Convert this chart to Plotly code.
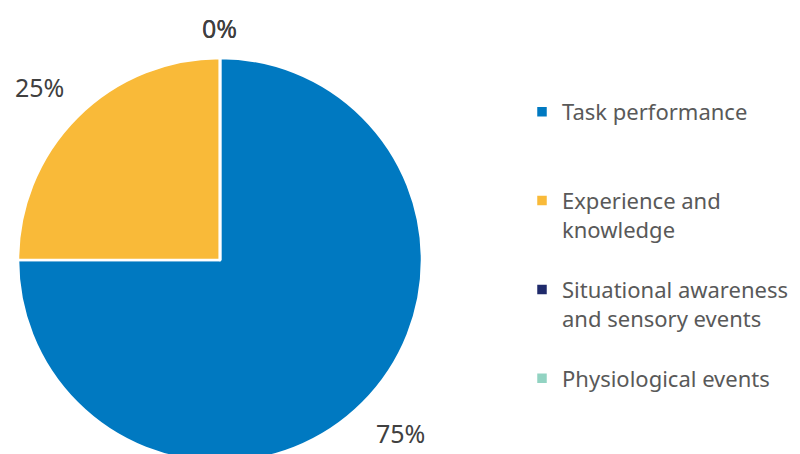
import math
import plotly.graph_objects as go

# --- data ---
categories = [
    "Task performance",
    "Experience and<br>knowledge",
    "Situational awareness<br>and sensory events",
    "Physiological events",
]
values = [75, 25, 0, 0]
colors = ["#0079C1", "#F9BA39", "#1F2A6B", "#92D3C2"]

# pad legend labels so every entry gets the same slot
legend_labels = []
for c in categories:
    n = c.count("<br>") + 1
    legend_labels.append(c + "<br> " * (3 - n))

W, H = 800, 454
# page body adds an 8px margin, so figure coords = screen coords - 8
cx, cy, r = 212, 252, 202

fig = go.Figure()
fig.add_trace(go.Pie(
    labels=legend_labels,
    values=values,
    marker=dict(colors=colors, line=dict(color="white", width=2.5)),
    sort=False,
    direction="clockwise",
    rotation=0,
    textinfo="none",
    hoverinfo="label+percent",
    domain=dict(x=[(cx - r) / W, (cx + r) / W], y=[1 - (cy + r) / H, 1 - (cy - r) / H]),
))

# percentage labels just outside the rim, from cumulative shares
total = sum(values)
cum = 0
for v in values:
    mid = (cum + v / 2) / total * 2 * math.pi
    cum += v
    sx, sy = math.sin(mid), math.cos(mid)
    xa = "center" if abs(sx) < 0.2 else ("left" if sx > 0 else "right")
    ya = "middle" if abs(sy) < 0.2 else ("bottom" if sy > 0 else "top")
    gap = 11 if xa == "center" else 16
    px = cx + (r + gap) * sx
    py = cy - (r + gap) * sy
    fig.add_annotation(
        x=px / W, y=1 - py / H, xref="paper", yref="paper",
        text=f"{round(v / total * 100)}%", showarrow=False,
        xanchor=xa, yanchor=ya,
        font=dict(size=25, color="#404040", family="Noto Sans"),
    )

fig.update_layout(
    width=W, height=H,
    margin=dict(l=0, r=0, t=0, b=0),
    paper_bgcolor="white",
    plot_bgcolor="white",
    font=dict(family="Noto Sans", color="#595959"),
    legend=dict(
        x=514 / W, y=1 - 83 / H, xanchor="left", yanchor="top",
        valign="top",
        font=dict(size=22, color="#595959", family="Noto Sans"),
        bgcolor="rgba(0,0,0,0)",
    ),
    showlegend=True,
)

fig.write_html("out.html")
